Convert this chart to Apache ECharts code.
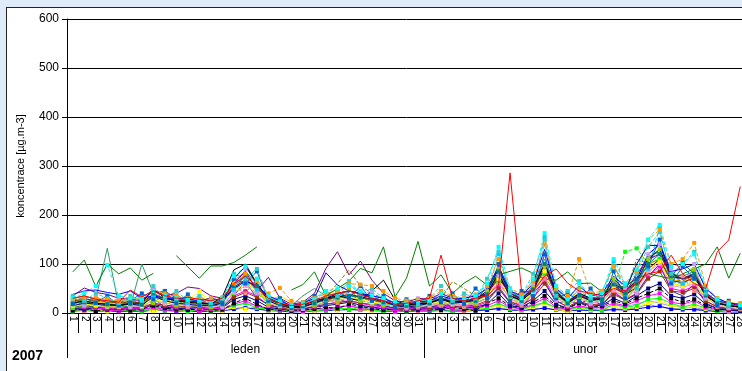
<!DOCTYPE html>
<html>
<head>
<meta charset="utf-8">
<script src="https://cdn.jsdelivr.net/npm/echarts@6/dist/echarts.min.js"></script>
<style>
* {
  margin: 0;
  padding: 0;
}
body {
  width: 742px;
  height: 371px;
  overflow: hidden;
  background: #e0ebfa;
  font-family: 'Liberation Sans', Arial, sans-serif;
}
#frame {
  position: absolute;
  left: 6px;
  top: 7px;
  width: 800px;
  height: 400px;
  background: #fff;
  border: 1px solid #222;
}
#chart {
  width: 800px;
  height: 400px;
}
</style>
</head>
<body>
<div id="frame"><div id="chart"></div></div>
<script>
// osa x: dny v lednu a unoru 2007
const ledenDays = ['1','2','3','4','5','6','7','8','9','10','11','12','13','14','15','16','17','18','19','20','21','22','23','24','25','26','27','28','29','30','31']
const unorDays = ['1','2','3','4','5','6','7','8','9','10','11','12','13','14','15','16','17','18','19','20','21','22','23','24','25','26','27','28']
const months = ['leden', 'unor']
const yTicks = [0, 100, 200, 300, 400, 500, 600]

// jednotlive stanice (leden 1-31, unor 1-28)
const karvinaZU = [30,35,28,25,22,47,33,45,35,30,32,28,25,30,60,75,55,30,20,15,18,25,35,40,45,38,30,25,18,20,25,
  30,118,30,25,30,35,57,286,43,45,75,90,61,45,40,35,50,45,60,80,85,118,80,60,50,125,149,258]
const greenStation = [84,108,54,100,80,92,67,81,null,117,94,71,96,96,103,118,135,null,null,47,58,84,35,50,65,91,82,135,33,71,146,
  55,78,40,61,75,57,78,85,92,81,70,67,84,60,61,43,50,55,70,80,75,70,80,90,100,135,71,122]
const purpleStation = [35,51,42,38,30,28,25,45,35,40,53,50,35,30,60,85,45,73,30,18,22,40,91,125,78,106,67,40,25,22,30,
  28,40,30,25,30,40,70,40,30,50,90,40,25,35,30,30,50,40,80,110,120,80,70,80,40,25,20,15]
const blueStation = [38,45,47,42,38,45,30,35,30,30,28,25,30,25,50,65,55,35,25,15,20,30,82,57,45,40,35,30,20,18,22,
  25,35,28,30,35,50,95,45,35,60,130,50,30,55,35,40,75,55,70,120,140,85,90,100,50,30,20,18]
const navyStation = [15,20,18,15,15,18,15,35,25,20,18,15,15,20,70,95,60,25,15,10,12,20,30,40,45,40,30,25,15,12,15,
  20,28,20,22,28,45,90,40,28,50,102,45,20,35,25,30,60,45,100,138,138,80,70,75,35,20,15,12]
const blackStation = [20,25,20,18,15,20,20,50,30,25,22,20,18,33,88,100,60,30,20,12,15,25,30,35,30,25,45,67,27,15,20,
  20,30,22,25,30,40,80,35,25,45,100,40,22,40,30,30,70,45,65,110,130,75,70,80,35,20,15,12]
const cyanStation = [30,40,55,98,35,30,28,45,35,30,28,25,25,30,75,95,70,35,22,14,18,28,45,50,55,45,35,30,22,20,25,
  25,40,30,28,35,60,135,50,30,70,163,55,28,60,35,40,110,60,90,150,180,95,100,120,50,28,20,16]
const seaGreenStation = [30,35,28,132,15,12,100,40,30,25,20,18,15,20,65,85,60,30,20,15,35,50,35,40,45,40,35,30,20,20,25,
  25,30,25,25,30,50,90,45,30,55,110,45,25,40,30,35,65,45,70,115,125,80,75,85,40,25,18,15]
const orangeStation = [28,32,30,28,25,30,28,45,40,35,30,28,30,32,60,80,65,40,51,25,22,30,40,45,60,58,55,45,30,25,28,
  30,45,35,30,38,55,110,50,38,65,140,55,35,110,40,45,95,60,85,149,170,100,110,143,55,30,22,18]
const oliveStation = [22,28,25,22,20,22,20,35,28,25,22,20,18,22,50,65,50,28,18,12,14,22,35,60,88,55,40,30,20,18,22,
  20,30,64,50,35,40,75,40,28,45,90,40,22,38,28,30,55,40,110,100,110,70,65,80,38,22,16,14]
const limeStation = [12,15,14,12,12,14,12,25,20,18,15,14,12,15,40,55,40,20,14,10,12,16,22,28,30,25,20,18,12,12,15,
  15,22,18,18,20,30,65,30,22,40,80,32,18,30,22,25,50,125,132,100,110,60,55,65,30,18,12,10]
const magentaStation = [10,12,10,9,8,10,9,20,15,12,11,10,8,10,35,45,35,15,10,6,8,12,18,22,25,20,15,12,8,8,10,
  10,15,12,12,14,22,55,22,15,30,70,25,12,25,15,18,40,28,40,75,95,50,45,55,25,12,8,7]
const yellowStation = [15,18,16,14,14,16,15,30,22,20,25,45,20,18,45,60,45,22,15,10,12,18,25,30,32,28,22,20,14,13,16,
  18,25,20,20,22,35,70,32,22,42,85,35,18,32,24,26,52,35,50,90,105,60,55,65,32,18,12,10]
const tealStation = [20,22,20,18,17,19,17,40,45,30,25,22,18,22,55,75,55,28,18,12,14,20,28,32,35,32,26,22,16,15,18,
  20,30,22,22,25,38,85,36,25,48,100,40,20,36,26,28,58,40,60,100,120,75,102,80,36,20,15,12]
const maroonStation = [25,28,26,23,21,23,21,38,30,26,25,22,19,24,52,68,52,28,19,11,14,21,28,33,38,33,28,23,17,16,19,
  21,30,24,23,26,38,75,36,26,47,90,38,21,36,27,29,57,38,52,90,110,66,62,72,38,21,15,13]
const skyStation = [18,22,20,18,16,18,17,32,26,23,21,19,16,20,48,62,48,25,17,10,13,19,26,31,35,30,25,21,15,14,17,
  19,28,22,21,24,36,120,34,24,45,155,36,19,34,25,27,105,37,50,90,175,64,60,70,35,19,14,12]
const lavenderStation = [8,10,9,8,7,8,7,12,10,9,8,8,7,8,15,20,15,10,8,5,6,8,10,12,14,12,10,9,7,7,8,
  8,10,9,9,10,12,18,12,10,14,20,12,9,12,10,10,15,14,18,25,20,14,12,10,8,6,5,5]
const greyStation = [5,6,5,5,4,5,4,7,6,5,5,4,4,5,10,12,10,6,5,3,4,5,6,7,8,7,6,5,4,4,5,
  5,6,5,5,6,7,10,7,6,8,10,7,5,7,6,6,8,8,10,18,12,9,8,7,6,4,3,3]
const pinkStation = [14,17,15,13,12,14,13,26,20,17,16,14,12,15,42,55,42,20,14,9,11,16,22,27,30,26,21,18,13,12,15,
  15,22,17,17,19,30,70,29,20,38,85,31,16,29,21,23,47,32,45,85,100,56,52,60,30,16,11,9]
const goldStation = [20,24,22,20,18,20,19,34,28,25,23,20,17,21,50,65,50,26,35,22,13,20,27,32,45,40,32,24,17,16,19,
  20,29,23,22,25,37,80,35,25,46,95,37,20,35,26,28,60,39,55,95,115,68,64,74,37,20,14,12]
const royalStation = [26,31,29,25,23,25,23,48,33,29,28,25,21,26,58,78,58,31,21,13,16,23,31,37,42,37,31,26,19,18,21,
  23,33,26,25,29,42,85,40,29,52,120,42,23,40,29,31,63,42,60,105,125,74,68,79,42,23,17,15]
const brownStation = [12,14,13,11,10,12,11,20,16,14,13,12,10,12,32,42,32,16,11,7,9,13,18,21,24,21,17,14,10,10,12,
  12,18,14,14,16,25,50,23,16,30,60,25,13,23,17,19,38,26,38,70,85,45,42,50,24,13,9,8]
const blueLowStation = [4,5,4,4,3,4,3,6,5,4,4,3,3,4,8,10,8,5,4,2,3,4,5,6,7,6,5,4,3,3,4,
  4,5,4,4,5,6,9,6,5,7,10,6,4,6,5,5,7,6,8,12,14,8,7,7,5,3,2,2]
const steelStation = [18,30,22,35,15,25,40,28,45,20,38,15,22,18,70,60,85,25,30,10,20,35,18,45,30,55,25,35,12,28,20,
  35,22,40,18,50,30,100,25,45,35,120,30,40,25,50,20,85,30,70,95,150,60,95,70,45,15,25,10]
const violetStation = [25,15,35,20,30,12,25,50,22,40,18,30,25,12,45,90,40,35,15,20,8,25,40,30,60,35,45,20,25,10,30,
  18,45,20,35,25,55,75,45,20,60,100,25,30,45,20,35,60,50,40,120,140,90,60,100,30,25,10,15]
const salmonStation = [10,22,15,28,18,20,12,35,18,25,12,20,15,25,55,40,70,15,22,8,15,18,28,20,35,45,18,25,15,20,12,
  22,15,30,12,25,40,60,30,15,45,70,45,15,35,18,28,45,35,60,80,110,55,75,45,35,12,18,8]
const limeGreenStation = [30,20,25,15,30,22,35,20,40,15,30,22,12,30,50,75,45,20,30,12,20,15,35,25,50,25,40,15,20,18,15,
  28,20,35,25,18,45,90,35,22,55,95,50,20,50,25,35,70,25,55,110,130,70,60,90,40,20,12,18]
const slateStation = [12,18,10,20,14,10,18,30,12,20,15,10,18,12,35,65,30,18,10,14,6,15,22,30,20,40,20,15,10,14,8,
  15,10,22,15,20,30,50,20,12,40,65,20,25,18,30,15,45,25,40,75,100,45,35,60,20,10,8,12]
const yellowLowStation = [6,4,8,3,7,5,9,4,8,6,3,7,5,4,12,8,15,5,7,3,6,4,9,5,12,7,4,8,3,6,4,
  8,5,10,4,7,12,15,9,5,12,18,7,4,10,6,8,14,9,12,20,25,15,10,14,8,5,3,4]
const greenLowStation = [3,7,5,8,4,6,3,10,5,9,4,6,3,8,15,20,10,8,4,6,2,7,5,10,8,12,6,4,5,3,6,
  5,8,4,9,6,10,20,8,6,15,22,10,6,12,8,5,18,12,15,28,30,20,12,18,10,4,6,2]
const magentaLowStation = [8,5,10,6,4,9,6,12,7,5,10,4,8,6,18,25,14,9,5,8,4,10,7,12,15,9,7,10,4,8,5,
  6,12,7,5,10,15,25,12,8,18,30,12,7,15,10,12,20,15,25,35,40,22,18,25,12,8,5,6]
const blackLowStation = [5,9,4,7,10,5,8,15,10,7,6,9,5,7,20,30,18,7,9,4,6,8,12,9,18,14,9,6,8,5,7,
  9,6,12,8,5,20,30,14,10,22,35,15,9,20,12,14,25,18,30,40,50,30,22,28,15,6,8,4]
const navyLowStation = [10,7,12,9,6,11,8,18,12,10,8,12,6,10,28,35,25,12,8,6,9,12,15,18,22,16,12,9,7,10,6,
  12,9,15,10,12,18,40,15,12,25,45,18,10,22,14,16,30,20,35,50,60,35,30,38,18,9,6,5]
const turquoiseStation = [35,25,40,30,20,35,25,55,30,45,25,35,20,30,80,70,90,30,25,15,22,30,45,35,65,40,50,30,22,25,18,
  30,55,25,40,30,70,125,40,35,80,150,35,45,65,30,45,95,55,80,135,165,80,100,125,40,30,15,20]

const categories = ledenDays.concat(unorDays)
const labelIndex = 31 + 7 // Karvina-ZU, 8. unora

// pomocna funkce pro jednu caru
function line(name, data, color, dashed, marker) {
  return {
    name: name,
    type: 'line',
    data: data,
    connectNulls: false,
    symbol: marker ? 'rect' : 'none',
    symbolSize: 4,
    showAllSymbol: true,
    itemStyle: { color: color },
    lineStyle: { color: color, width: 1, type: dashed ? [4, 2] : 'solid' },
    emphasis: { disabled: true },
    z: 2
  }
}

const series = [
  line('greyStation', greyStation, '#969696', false, false),
  line('lavenderStation', lavenderStation, '#9999ff', false, false),
  line('blueLowStation', blueLowStation, '#0000ff', false, true),
  line('yellowLowStation', yellowLowStation, '#ffff00', false, true),
  line('greenLowStation', greenLowStation, '#00ff00', false, true),
  line('magentaLowStation', magentaLowStation, '#ff00ff', false, true),
  line('blackLowStation', blackLowStation, '#000000', true, true),
  line('navyLowStation', navyLowStation, '#000080', false, true),
  line('magentaStation', magentaStation, '#ff00ff', false, true),
  line('brownStation', brownStation, '#993300', false, true),
  line('slateStation', slateStation, '#333399', false, false),
  line('salmonStation', salmonStation, '#ff8080', false, true),
  line('limeStation', limeStation, '#00ff00', true, true),
  line('pinkStation', pinkStation, '#ff99cc', false, true),
  line('yellowStation', yellowStation, '#ffff00', false, true),
  line('limeGreenStation', limeGreenStation, '#99cc00', false, true),
  line('violetStation', violetStation, '#cc99ff', true, true),
  line('skyStation', skyStation, '#00ccff', true, true),
  line('goldStation', goldStation, '#ffcc00', false, false),
  line('tealStation', tealStation, '#008080', false, true),
  line('steelStation', steelStation, '#0066cc', false, true),
  line('maroonStation', maroonStation, '#800000', false, false),
  line('royalStation', royalStation, '#3366ff', true, false),
  line('turquoiseStation', turquoiseStation, '#33cccc', true, true),
  line('oliveStation', oliveStation, '#808000', true, false),
  line('orangeStation', orangeStation, '#ff9900', true, true),
  line('seaGreenStation', seaGreenStation, '#339966', false, false),
  line('cyanStation', cyanStation, '#00ffff', true, true),
  line('navyStation', navyStation, '#000080', false, false),
  line('blackStation', blackStation, '#000000', false, false),
  line('blueStation', blueStation, '#0000ff', false, false),
  line('purpleStation', purpleStation, '#800080', false, false),
  line('greenStation', greenStation, '#008000', false, false)
]

// Karvina-ZU s popiskem u maxima
const karvina = line('Karviná-ZÚ', karvinaZU.map(function (v, i) {
  if (i === labelIndex) {
    return {
      value: v,
      label: {
        show: true,
        position: 'right',
        distance: 10,
        formatter: 'Karviná-ZÚ',
        color: '#000',
        fontSize: 12,
        fontFamily: 'Liberation Sans'
      }
    }
  }
  return v
}), '#ff0000', false, false)
karvina.z = 3
series.push(karvina)

const chart = echarts.init(document.getElementById('chart'))
chart.setOption({
  animation: false,
  textStyle: { fontFamily: 'Liberation Sans' },
  grid: {
    left: 58,
    top: 11,
    width: 681,
    height: 294
  },
  xAxis: [
    {
      type: 'category',
      position: 'bottom',
      data: categories,
      boundaryGap: true,
      axisLine: { show: true, lineStyle: { color: '#000', width: 1 } },
      axisTick: { show: true, interval: 0, length: 20, lineStyle: { color: '#000' } },
      axisLabel: {
        interval: 0,
        rotate: -90,
        margin: 3,
        fontSize: 10,
        color: '#000'
      },
      splitLine: { show: false }
    },
    {
      type: 'category',
      position: 'bottom',
      data: categories,
      boundaryGap: true,
      axisLine: { show: false },
      axisTick: {
        show: true,
        length: 45,
        interval: function (index) { return index === 0 || index === ledenDays.length },
        lineStyle: { color: '#000' }
      },
      axisLabel: {
        interval: 0,
        margin: 31,
        fontSize: 12,
        color: '#000',
        formatter: function (value, index) {
          if (index === 15) return months[0]
          if (index === ledenDays.length + 14) return '{u|' + months[1] + '}'
          return ''
        },
        rich: {
          u: { fontSize: 12, color: '#000', padding: [0, 11, 0, 0] }
        }
      },
      splitLine: { show: false }
    }
  ],
  yAxis: {
    type: 'value',
    min: yTicks[0],
    max: yTicks[yTicks.length - 1],
    interval: 100,
    name: 'koncentrace [µg.m-3]',
    nameLocation: 'middle',
    nameRotate: 90,
    nameGap: 41,
    nameTextStyle: { fontSize: 11, color: '#000' },
    axisLine: { show: true, lineStyle: { color: '#000' } },
    axisTick: { show: true, length: 5, lineStyle: { color: '#000' } },
    axisLabel: { fontSize: 12, color: '#000', margin: 8 },
    splitLine: { show: true, lineStyle: { color: '#000', width: 1 } }
  },
  graphic: [
    {
      type: 'text',
      left: 5,
      top: 341,
      style: {
        text: '2007',
        fontSize: 14,
        fontWeight: 'bold',
        fontFamily: 'Liberation Sans',
        fill: '#000'
      }
    }
  ],
  series: series
})
</script>
</body>
</html>
